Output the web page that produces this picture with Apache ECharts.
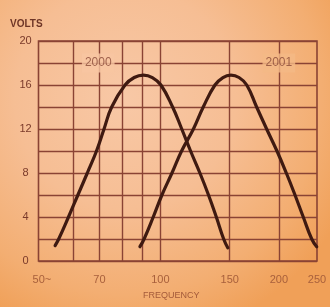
<!DOCTYPE html>
<html>
<head>
<meta charset="utf-8">
<script src="https://cdn.jsdelivr.net/npm/echarts@6/dist/echarts.min.js"></script>
<style>
html,body{margin:0;padding:0;background:#f5bb8c;}
#c{width:330px;height:307px;}
</style>
</head>
<body>
<div id="c"></div>
<script>
// ---- data ----
const seriesNames = ['2000', '2001'];
const freq2000  = [54.0, 55.15, 58.4, 61.7, 65.2, 68.8, 71.9, 75.2, 81.3, 85.8, 90.5, 95.4, 100.3, 107.4, 113.3, 119.3, 126.0, 132.5, 138.7, 144.8, 148.3];
const volts2000 = [1.4, 2, 4, 6, 8, 10, 12, 14, 16, 16.68, 16.9, 16.68, 16, 14, 12, 10, 8, 6, 4, 2, 1.2];
const freq2001  = [88.7, 90.9, 95.9, 100.9, 107.0, 113.2, 121.3, 128.5, 137.6, 144.2, 151.1, 158.4, 165.7, 175.6, 186.2, 197.8, 208.9, 219.8, 230.7, 242.4, 249.6];
const volts2001 = [1.3, 2, 4, 6, 8, 10, 12, 14, 16, 16.68, 16.9, 16.68, 16, 14, 12, 10, 8, 6, 4, 2, 1.3];
const xTickValues = [50, 70, 100, 150, 200, 250];
const xTickLabels = ['50~', '70', '100', '150', '200', '250'];
const xGridValues = [60, 70, 80, 90, 100, 150, 200];
const yTickLabels = ['0', '4', '8', '12', '16', '20'];
const seriesLabelFreq = [69.5, 200];
const seriesLabelVolt = 18;

// ---- chart ----
const gridColor = '#8a4334';
const curveColor = '#3f1a11';
const font = 'Liberation Sans, Arial, sans-serif';
const labelBg = ['#f7c6a1', '#f4b986'];

const chart = echarts.init(document.getElementById('c'), null, {renderer: 'canvas'});
const pairs = (xs, ys) => xs.map((x, i) => [x, ys[i]]);

chart.setOption({
  animation: false,
  backgroundColor: {
    type: 'radial', x: 0.38, y: 0.32, r: 0.8,
    colorStops: [
      {offset: 0, color: '#f8c8a6'},
      {offset: 0.45, color: '#f6be94'},
      {offset: 0.8, color: '#f3ae72'},
      {offset: 1, color: '#f0a058'}
    ]
  },
  title: [
    {text: 'VOLTS', left: 10, top: 19, padding: 0,
     textStyle: {fontFamily: font, fontSize: 10, fontWeight: 'bold', color: '#6e3526'}},
    {text: 'FREQUENCY', left: 143, top: 291, padding: 0,
     textStyle: {fontFamily: font, fontSize: 9, fontWeight: 'normal', color: '#a35a3a'}}
  ],
  grid: {
    left: 38.5, right: 13, top: 41, bottom: 46,
    show: true, borderColor: gridColor, borderWidth: 1.6, backgroundColor: 'transparent'
  },
  xAxis: {
    type: 'log', logBase: 10, min: 49, max: 250,
    axisLine: {show: false},
    axisTick: {show: false, customValues: xGridValues},
    splitLine: {show: true, lineStyle: {color: gridColor, width: 1.4}},
    axisLabel: {
      customValues: xTickValues,
      margin: 13,
      fontFamily: font, fontSize: 11, color: '#a8603c',
      formatter: v => {
        const i = xTickValues.findIndex(t => Math.abs(t - v) < 1e-6);
        return i >= 0 ? xTickLabels[i] : '';
      }
    }
  },
  yAxis: {
    type: 'value', min: 0, max: 20, interval: 2,
    axisLine: {show: false},
    axisTick: {show: false},
    splitLine: {show: true, lineStyle: {color: gridColor, width: 1.4}},
    axisLabel: {
      margin: 13, align: 'center',
      fontFamily: font, fontSize: 11, color: '#7a3a2a',
      formatter: v => {
        const i = yTickLabels.indexOf(String(v));
        return i >= 0 ? yTickLabels[i] : '';
      }
    }
  },
  series: [
    {name: seriesNames[0], type: 'line', data: pairs(freq2000, volts2000), smooth: 0.45,
     showSymbol: false, lineStyle: {color: curveColor, width: 3.2, cap: 'round'}, z: 3},
    {name: seriesNames[1], type: 'line', data: pairs(freq2001, volts2001), smooth: 0.45,
     showSymbol: false, lineStyle: {color: curveColor, width: 3.2, cap: 'round'}, z: 3},
    {type: 'scatter', symbolSize: 1, itemStyle: {color: 'rgba(0,0,0,0)'}, z: 4,
     data: seriesNames.map((n, i) => ({
       value: [seriesLabelFreq[i], seriesLabelVolt], name: n,
       label: {backgroundColor: labelBg[i]}
     })),
     label: {
       show: true, position: 'inside', formatter: p => p.name,
       fontFamily: font, fontSize: 12, color: '#8a4a38', padding: [4, 3, 3, 3]
     }
    }
  ]
});
</script>
</body>
</html>
